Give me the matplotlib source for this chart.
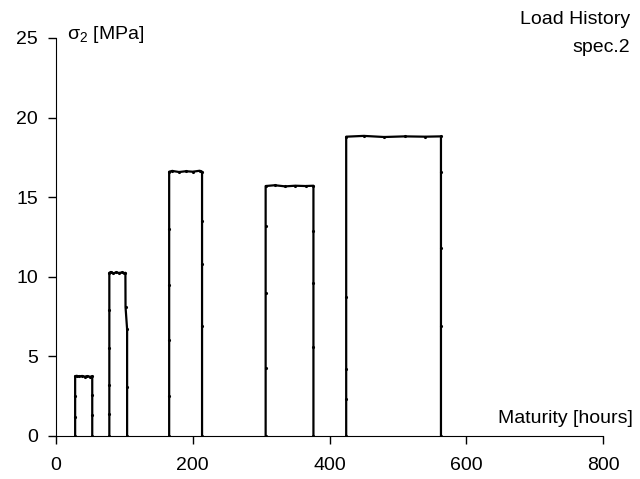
import numpy as np
import matplotlib
matplotlib.use('Agg')
import matplotlib.pyplot as plt

plt.rcParams['font.family'] = ['Liberation Sans', 'DejaVu Sans']
plt.rcParams['mathtext.fontset'] = 'custom'
plt.rcParams['mathtext.rm'] = 'Liberation Sans'

# load steps: maturity [hours], sigma2 [MPa]
t1 = [28, 28, 28, 28, 30, 34, 38, 42, 46, 50, 53, 53, 53, 53]
s1 = [0, 1.2, 2.5, 3.75, 3.78, 3.74, 3.77, 3.73, 3.76, 3.72, 3.75, 2.6, 1.3, 0]
t2 = [78, 78, 78, 78, 78, 78, 80, 84, 88, 92, 96, 100, 101.5, 101.7, 104, 104, 104]
s2 = [0, 1.4, 3.2, 5.5, 7.9, 10.25, 10.3, 10.22, 10.28, 10.24, 10.27, 10.23, 10.25, 8.1, 6.7, 3.1, 0]
t3 = [165.5, 165.5, 165.5, 165.5, 165.5, 165.5, 170, 180, 190, 200, 210, 213.6, 213.6, 213.6, 213.6, 213.6]
s3 = [0, 2.5, 6.0, 9.5, 13.0, 16.6, 16.65, 16.58, 16.63, 16.6, 16.66, 16.6, 13.5, 10.8, 6.9, 0]
t4 = [306.6, 306.6, 306.6, 306.6, 306.6, 320, 335, 350, 365, 376.5, 376.5, 376.5, 376.5, 376.5]
s4 = [0, 4.3, 9.0, 13.2, 15.7, 15.75, 15.68, 15.72, 15.7, 15.72, 12.9, 9.6, 5.6, 0]
t5 = [424.4, 424.4, 424.4, 424.4, 424.4, 450, 480, 510, 540, 563, 563, 563, 563, 563]
s5 = [0, 2.3, 4.2, 8.7, 18.8, 18.85, 18.78, 18.82, 18.8, 18.82, 16.6, 11.8, 6.9, 0]

fig = plt.figure(figsize=(6.4, 4.79), dpi=100)
ax = fig.add_axes([0.0875, 0.0898, 0.8547, 0.8309])

for t, s in [(t1, s1), (t2, s2), (t3, s3), (t4, s4), (t5, s5)]:
    ax.plot(t, s, color='black', lw=1.6, marker='.', ms=2.5)

ax.set_xlim(0, 800)
ax.set_ylim(0, 25)
ax.set_xticks([0, 200, 400, 600, 800])
ax.set_yticks([0, 5, 10, 15, 20, 25])
ax.spines['top'].set_visible(False)
ax.spines['right'].set_visible(False)
ax.tick_params(direction='out', length=6, width=1, labelsize=14)
ax.tick_params(axis='x', pad=9)
ax.tick_params(axis='y', pad=7)

ax.text(0.02, 1.0075, r'$\mathrm{σ_2}$ [MPa]', transform=ax.transAxes, fontsize=14,
        ha='left', va='center')
ax.text(1.055, 0.045, 'Maturity [hours]', transform=ax.transAxes, fontsize=14,
        ha='right', va='center')
fig.text(0.984, 0.931, 'Load History\nspec.2', fontsize=14, ha='right', va='center',
         linespacing=1.85)

fig.savefig('out.png', dpi=100)
